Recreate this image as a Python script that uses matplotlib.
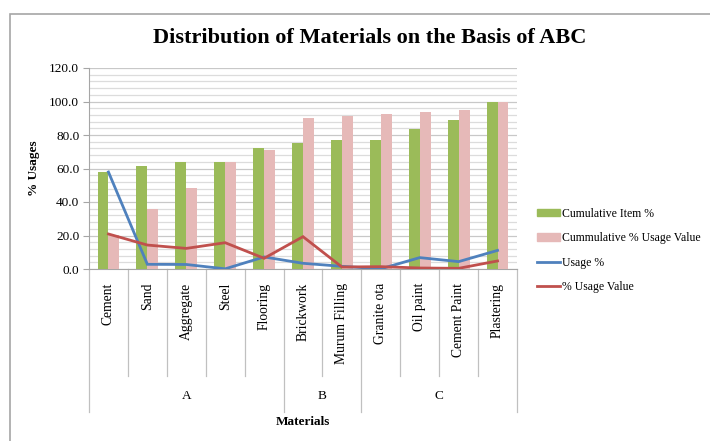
import matplotlib
matplotlib.use("Agg")
import matplotlib.pyplot as plt
import numpy as np
from matplotlib.patches import Patch, Rectangle
from matplotlib.lines import Line2D
from matplotlib.ticker import MultipleLocator

materials = ["Cement", "Sand", "Aggregate", "Steel", "Flooring", "Brickwork",
             "Murum Filling", "Granite ota", "Oil paint", "Cement Paint", "Plastering"]
groups = ["A", "B", "C"]
group_sizes = [5, 2, 4]

cum_item = [57.9, 61.3, 64.1, 64.1, 72.0, 75.4, 77.0, 77.0, 83.6, 88.8, 100.0]
cum_usage_value = [20.5, 35.8, 48.2, 64.1, 70.8, 90.3, 91.2, 92.6, 93.9, 94.7, 100.0]
usage_pct = [57.9, 2.8, 2.7, 0.1, 7.2, 3.4, 1.6, 0.1, 6.8, 4.4, 11.1]
usage_value_pct = [20.9, 14.3, 12.3, 15.7, 6.4, 19.3, 1.2, 1.4, 0.6, 0.4, 4.8]

GREEN = "#9BBB59"
PINK = "#E6B9B8"
BLUE = "#4F81BD"
RED = "#C0504D"
SERIF = "Liberation Serif"

fig = plt.figure(figsize=(7.1, 4.41), dpi=100)
W, H = 710, 441

# chart frame (runs off the right and bottom edges)
fig.patches.append(Rectangle((10 / W, -0.2), 1.0, 1.2 - 14 / H, transform=fig.transFigure,
                             fill=False, edgecolor="#a6a6a6", linewidth=1.2))

ax = fig.add_axes([89 / W, 1 - 269 / H, (517 - 89) / W, (269 - 68) / H])
x = np.arange(len(materials))
w = 0.28
ax.bar(x - w / 2, cum_item, w, color=GREEN, zorder=3)
ax.bar(x + w / 2, cum_usage_value, w, color=PINK, zorder=3)
ax.plot(x, usage_pct, color=BLUE, lw=2.0, zorder=4, solid_joinstyle="miter")
ax.plot(x, usage_value_pct, color=RED, lw=2.0, zorder=4, solid_joinstyle="miter")

ax.set_xlim(-0.5, len(materials) - 0.5)
ax.set_ylim(0, 120)
ax.yaxis.set_major_locator(MultipleLocator(20))
ax.yaxis.set_minor_locator(MultipleLocator(4))
ax.yaxis.set_major_formatter(matplotlib.ticker.FormatStrFormatter("%.1f"))
ax.grid(axis="y", which="major", color="#c8c8c8", lw=0.9, zorder=0)
ax.grid(axis="y", which="minor", color="#dcdcdc", lw=0.9, zorder=0)
ax.tick_params(axis="y", which="major", length=4, color="#a6a6a6", labelsize=9.5, pad=3)
ax.tick_params(axis="y", which="minor", length=0)
for lab in ax.get_yticklabels():
    lab.set_fontfamily(SERIF)
ax.set_xticks([])
for s in ["top", "right"]:
    ax.spines[s].set_visible(False)
ax.spines["left"].set_color("#a6a6a6")
ax.spines["bottom"].set_color("#a6a6a6")

# category labels and separators below the axis
tr = ax.get_xaxis_transform()
ph = 269 - 68
sep_short = -(376 - 269) / ph
sep_long = -(412 - 269) / ph
for i, m in enumerate(materials):
    ax.text(i, -(283 - 269) / ph, m, transform=tr, rotation=90, ha="center", va="top",
            fontsize=9.8, family=SERIF)
bounds = np.cumsum([0] + group_sizes) - 0.5
for b in np.arange(-0.5, len(materials)):
    bottom = sep_long if b in bounds else sep_short
    ax.plot([b, b], [0, bottom], transform=tr, color="#c0c0c0", lw=0.9, clip_on=False)
for g, lo, hi in zip(groups, bounds[:-1], bounds[1:]):
    ax.text((lo + hi) / 2, -(396 - 269) / ph, g, transform=tr, ha="center", va="center",
            fontsize=9.5, family=SERIF)
ax.text(0.5, -(422 - 269) / ph, "Materials", transform=ax.transAxes, ha="center",
        va="center", fontsize=9.5, family=SERIF, fontweight="bold")

ax.set_ylabel("% Usages", fontsize=9.5, family=SERIF, fontweight="bold", labelpad=7)

fig.text(370 / W, 1 - 38 / H, "Distribution of Materials on the Basis of ABC",
         ha="center", va="center", fontsize=16, family=SERIF, fontweight="bold")

handles = [Patch(color=GREEN), Patch(color=PINK),
           Line2D([], [], color=BLUE, lw=2.0), Line2D([], [], color=RED, lw=2.0)]
labels = ["Cumulative Item %", "Cummulative % Usage Value", "Usage %", "% Usage Value"]
fig.legend(handles, labels, loc="upper left", bbox_to_anchor=(532 / W, 1 - 203 / H),
           frameon=False, prop={"family": SERIF, "size": 8.5}, handlelength=2.0,
           handleheight=0.6, handletextpad=0.1, labelspacing=1.05, borderaxespad=0)

fig.savefig("out.png", dpi=100)
